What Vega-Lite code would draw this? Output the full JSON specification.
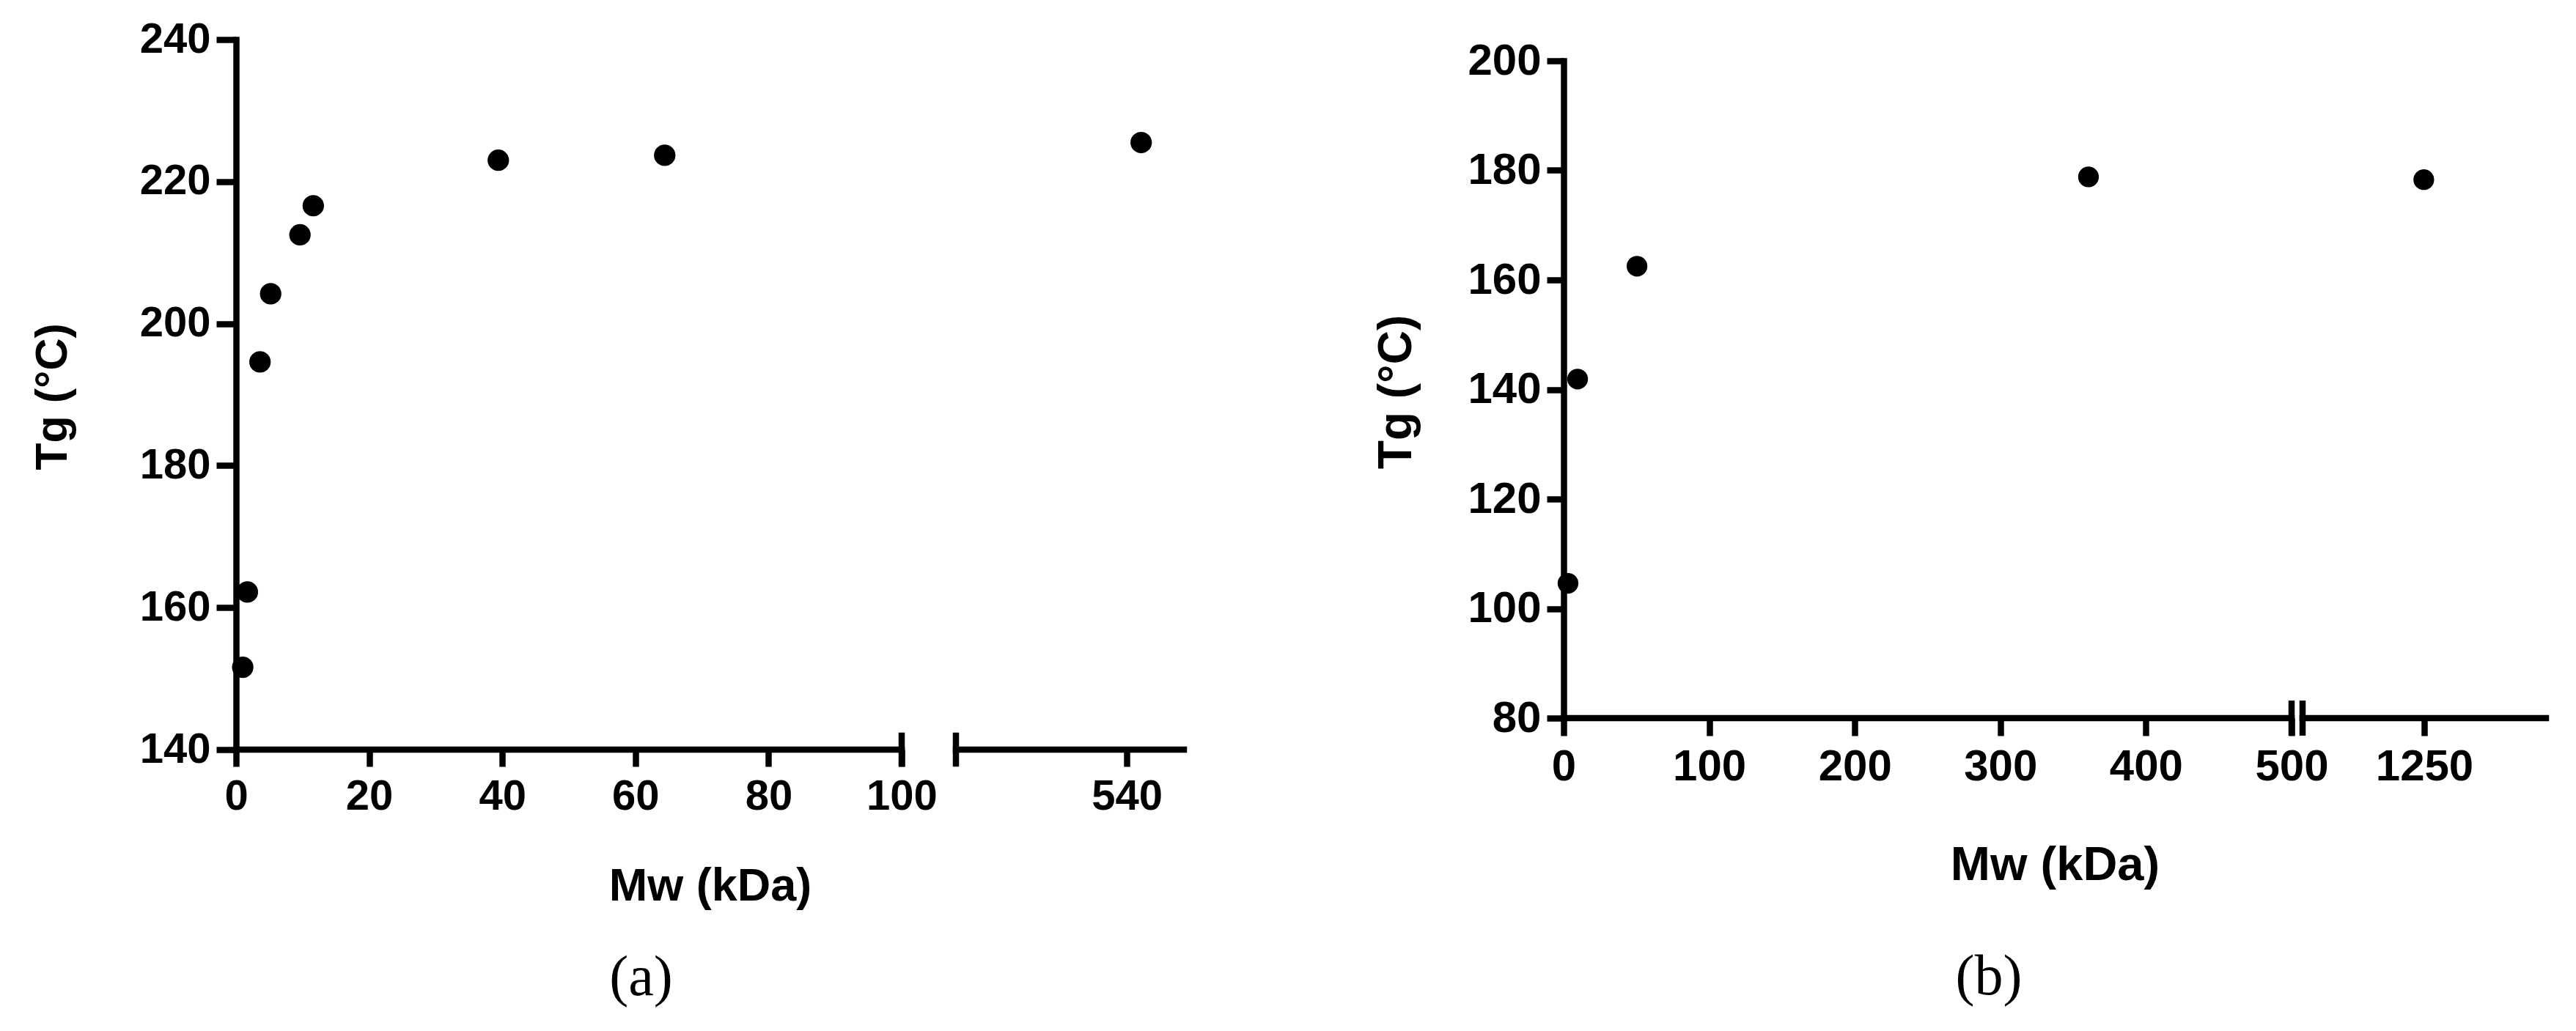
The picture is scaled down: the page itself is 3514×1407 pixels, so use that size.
{
  "$schema": "https://vega.github.io/schema/vega-lite/v6.json",
  "autosize": {"type": "none"},
  "padding": {"left": 322, "top": 54, "right": 3192, "bottom": 1353},
  "background": "white",
  "bounds": "flush",
  "spacing": 518,
  "config": {
    "view": {"stroke": null},
    "axis": {
      "grid": false,
      "domainColor": "black",
      "tickColor": "black",
      "labelColor": "black",
      "titleColor": "black",
      "domainWidth": 8.5,
      "tickWidth": 8.5,
      "domainCap": "square",
      "labelFont": "Liberation Sans",
      "labelFontWeight": "bold",
      "titleFont": "Liberation Sans",
      "titleFontWeight": "bold",
      "labelFlush": false,
      "labelOverlap": false
    }
  },
  "datasets": {
    "pointsA": [
      {"Mw": 1.0, "Tg": 151.6},
      {"Mw": 1.7, "Tg": 162.2},
      {"Mw": 3.6, "Tg": 194.6},
      {"Mw": 5.2, "Tg": 204.2},
      {"Mw": 9.6, "Tg": 212.5},
      {"Mw": 11.6, "Tg": 216.6},
      {"Mw": 39.4, "Tg": 223.0},
      {"Mw": 64.4, "Tg": 223.7},
      {"Mw": 545, "Tg": 225.5}
    ],
    "axisA": [{"Mw": 0, "Mw_end": 100, "Tg": 140}, {"Mw": 480, "Mw_end": 560, "Tg": 140}],
    "breaksA": [{"Mw": 100, "Tg": 137.6, "Tg_end": 142.4}, {"Mw": 480, "Tg": 137.6, "Tg_end": 142.4}],
    "pointsB": [
      {"Mw": 3.0, "Tg": 104.6},
      {"Mw": 9.6, "Tg": 141.9},
      {"Mw": 50.4, "Tg": 162.5},
      {"Mw": 360.5, "Tg": 178.8},
      {"Mw": 1249, "Tg": 178.3}
    ],
    "axisB": [{"Mw": 0, "Mw_end": 500, "Tg": 80}, {"Mw": 1000, "Mw_end": 1500, "Tg": 80}],
    "breaksB": [{"Mw": 500, "Tg": 76.8, "Tg_end": 83.2}, {"Mw": 1000, "Tg": 76.8, "Tg_end": 83.2}]
  },
  "hconcat": [
    {
      "width": 1293,
      "height": 969,
      "title": {
        "text": "(a)",
        "orient": "bottom",
        "frame": "group",
        "anchor": "middle",
        "offset": 117,
        "baseline": "alphabetic",
        "dx": -94,
        "font": "Liberation Serif",
        "fontSize": 78,
        "fontWeight": "normal",
        "color": "black"
      },
      "encoding": {
        "x": {
          "field": "Mw",
          "type": "quantitative",
          "scale": {"domain": [0, 100, 480, 560], "range": [0, 908, 982, 1293], "nice": false, "zero": false},
          "axis": {
            "title": "Mw (kDa)",
            "values": [0, 20, 40, 60, 80, 100, 540],
            "format": "d",
            "domain": false,
            "tickSize": 23,
            "labelPadding": 12,
            "labelFontSize": 58,
            "titleFontSize": 63,
            "titleBaseline": "alphabetic",
            "titleX": 646.5,
            "titleY": 205
          }
        },
        "y": {
          "field": "Tg",
          "type": "quantitative",
          "scale": {"domain": [140, 240], "nice": false, "zero": false},
          "axis": {
            "title": "Tg (°C)",
            "values": [140, 160, 180, 200, 220, 240],
            "format": "d",
            "tickSize": 27,
            "labelPadding": 8,
            "labelFontSize": 58,
            "titleFontSize": 61,
            "titleBaseline": "alphabetic",
            "titleX": -232,
            "titleY": 487
          }
        }
      },
      "layer": [
        {
          "data": {"name": "axisA"},
          "mark": {"type": "rule", "strokeWidth": 8.5, "color": "black", "strokeCap": "square"},
          "encoding": {"x2": {"field": "Mw_end"}}
        },
        {
          "data": {"name": "breaksA"},
          "mark": {"type": "rule", "strokeWidth": 8.5, "color": "black"},
          "encoding": {"y2": {"field": "Tg_end"}}
        },
        {
          "data": {"name": "pointsA"},
          "mark": {"type": "circle", "size": 855, "color": "black", "opacity": 1},
          "encoding": {}
        }
      ]
    },
    {
      "width": 1340,
      "height": 926,
      "title": {
        "text": "(b)",
        "orient": "bottom",
        "frame": "group",
        "anchor": "middle",
        "offset": 144,
        "baseline": "alphabetic",
        "dx": -90,
        "font": "Liberation Serif",
        "fontSize": 78,
        "fontWeight": "normal",
        "color": "black"
      },
      "encoding": {
        "x": {
          "field": "Mw",
          "type": "quantitative",
          "scale": {"domain": [0, 500, 1000, 1500], "range": [0, 993, 1008, 1340], "nice": false, "zero": false},
          "axis": {
            "title": "Mw (kDa)",
            "values": [0, 100, 200, 300, 400, 500, 1250],
            "format": "d",
            "domain": false,
            "tickSize": 24,
            "labelPadding": 13,
            "labelFontSize": 60,
            "titleFontSize": 65,
            "titleBaseline": "alphabetic",
            "titleX": 670,
            "titleY": 220
          }
        },
        "y": {
          "field": "Tg",
          "type": "quantitative",
          "scale": {"domain": [80, 200], "range": [926, 29], "nice": false, "zero": false},
          "axis": {
            "title": "Tg (°C)",
            "values": [80, 100, 120, 140, 160, 180, 200],
            "format": "d",
            "tickSize": 23,
            "labelPadding": 8,
            "labelFontSize": 60,
            "titleFontSize": 64,
            "titleBaseline": "alphabetic",
            "titleX": -209,
            "titleY": 480.5
          }
        }
      },
      "layer": [
        {
          "data": {"name": "axisB"},
          "mark": {"type": "rule", "strokeWidth": 8.5, "color": "black", "strokeCap": "square"},
          "encoding": {"x2": {"field": "Mw_end"}}
        },
        {
          "data": {"name": "breaksB"},
          "mark": {"type": "rule", "strokeWidth": 8.5, "color": "black"},
          "encoding": {"y2": {"field": "Tg_end"}}
        },
        {
          "data": {"name": "pointsB"},
          "mark": {"type": "circle", "size": 800, "color": "black", "opacity": 1},
          "encoding": {}
        }
      ]
    }
  ]
}
